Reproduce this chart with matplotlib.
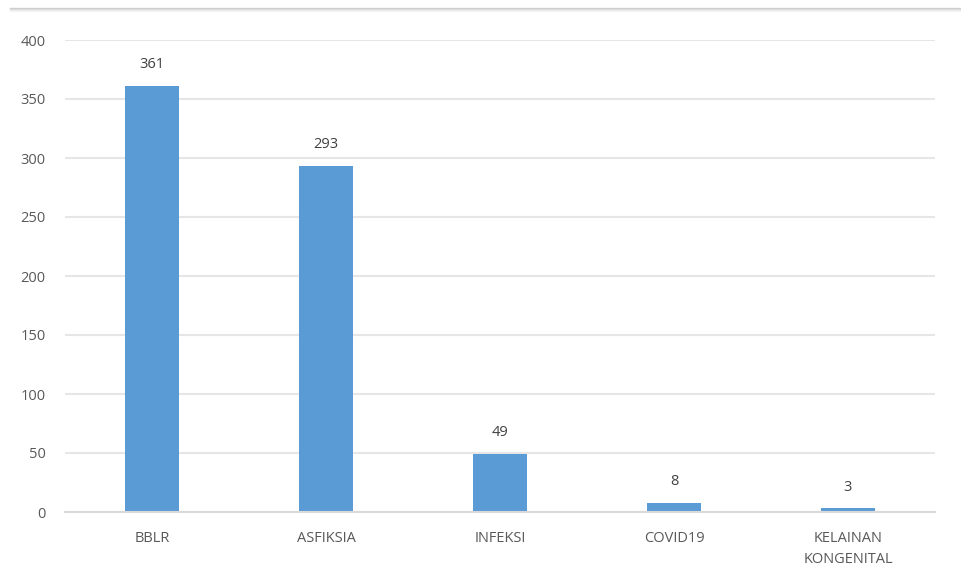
import matplotlib
matplotlib.use("Agg")
import matplotlib.pyplot as plt
from matplotlib.lines import Line2D

categories = ["BBLR", "ASFIKSIA", "INFEKSI", "COVID19", "KELAINAN\nKONGENITAL"]
values = [361, 293, 49, 8, 3]
yticks = [0, 50, 100, 150, 200, 250, 300, 350, 400]

plt.rcParams["font.family"] = ["Open Sans", "DejaVu Sans"]

fig = plt.figure(figsize=(9.61, 5.83), dpi=100)
ax = fig.add_axes([65 / 961, 71 / 583, 870 / 961, 472 / 583])

x = list(range(len(categories)))
bars = ax.bar(x, values, width=0.31, color="#5B9BD5", zorder=3)
for b, v in zip(bars, values):
    ax.annotate(str(v), (b.get_x() + b.get_width() / 2, v), xytext=(0, 10),
                textcoords="offset points", ha="center", va="bottom",
                fontsize=10.5, color="#404040")

ax.set_xlim(-0.5, len(categories) - 0.5)
ax.set_ylim(0, 400)
ax.set_yticks(yticks)
ax.set_xticks(x)
ax.set_xticklabels(categories, fontsize=10.5, color="#595959", linespacing=1.55)
ax.tick_params(axis="y", labelsize=10.5, labelcolor="#595959", length=0, pad=14)
ax.tick_params(axis="x", length=0, pad=14)
ax.grid(axis="y", color="#e6e6e6", linewidth=1.5, zorder=0)
for s in ["top", "right", "left"]:
    ax.spines[s].set_visible(False)
ax.spines["bottom"].set_color("#d9d9d9")
ax.spines["bottom"].set_linewidth(1.5)
ax.spines["bottom"].set_zorder(4)

# shadow strip along the top edge of the chart frame
for i, a in enumerate([0.35, 0.2, 0.1, 0.05]):
    yy = 1 - (8 + i) / 583
    fig.add_artist(Line2D([10 / 961, 1], [yy, yy], transform=fig.transFigure,
                          color="gray", alpha=a, linewidth=1))

fig.savefig("out.png", dpi=100)
